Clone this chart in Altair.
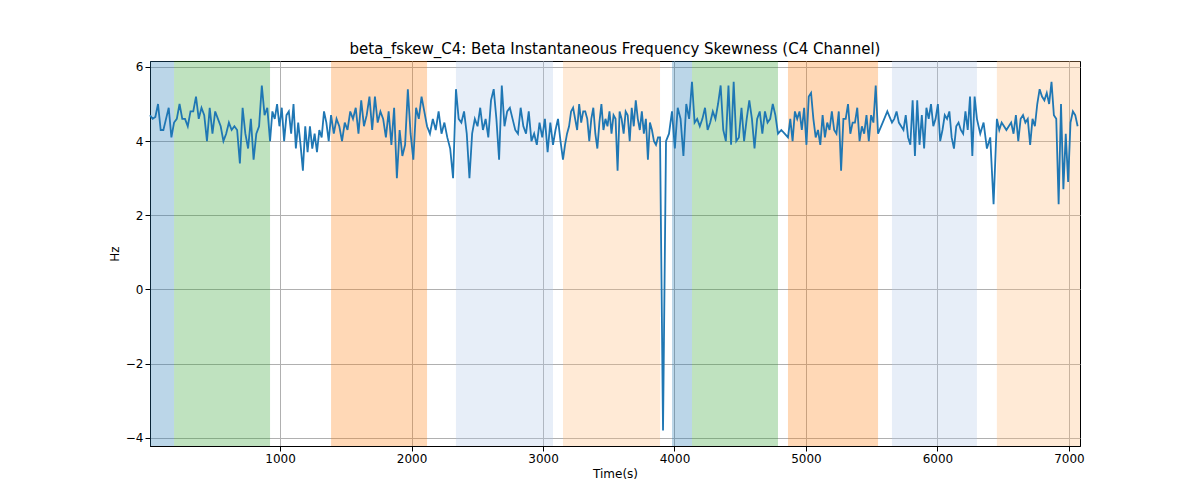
import altair as alt
import pandas as pd
import numpy as np

seg_bounds = [11, 194, 924, 1388, 2118, 2338, 3076, 3152, 3890, 3981, 4133, 4787, 4863, 5548, 5654, 6300, 6452, 7084]
seg_values = [
    [4.7,4.6,4.65,5.0,4.3,4.3,4.6,4.9,4.1],
    [4.5,4.6,5.0,4.6,4.6,4.4,4.8,4.8,5.2,4.6,4.9,4.7,4.0,4.9,4.2,4.8,4.6,4.4,4.0,4.2,4.5,4.3,4.4,4.3,3.4,4.9,4.2,3.8,4.6,3.5,4.2,4.4,5.5,4.7,4.9],
    [4.0,4.8,4.6,5.0,4.4,4.9,4.0,4.7,4.8,4.2,5.0,3.8,4.5,3.9,3.2,4.4,3.7,4.4,3.8,4.2,3.7,4.3,4.1,4.8,4.5,4.0],
    [4.7,4.2,4.6,4.4,4.0,4.5,4.3,4.8,4.6,4.9,4.2,5.1,4.4,4.7,5.2,4.3,5.2,4.5,4.8,4.6,4.1,4.8,3.9,4.9,3.0,4.3,3.6,3.9,5.4,4.2,3.5,4.9,4.6,5.2,4.8],
    [4.4,4.2,4.6,4.3,4.8,4.2,4.5,4.1,3.8,3.0],
    [5.4,4.6,4.5,4.8,4.2,3.0,4.2,4.6,4.4,4.9,4.3,4.6,4.1,5.1,5.4,4.6,3.5,5.5,4.4,4.8,4.9,4.6,4.3,4.2,4.9,4.4,4.2,4.8,4.0,4.2,3.9,4.5,4.1,4.6,3.7,4.5],
    [3.9,4.3,4.6,4.0],
    [3.5,3.9,4.2,4.4,4.8,4.9,4.6,4.3,5.0,4.5,4.8,4.8,4.6,4.0,4.6,4.9,4.2,3.8,4.5,5.0,4.3,4.6,4.4,4.8,4.2,4.7,4.6,3.2,4.8,4.6,4.2,4.8,4.7,4.0,4.9,4.4,5.1,4.6,4.3,4.8,4.2,4.6,3.5,4.5,4.3,4.0,3.9,4.1],
    [4.1,-3.8,4.0,4.2],
    [4.8,3.8,4.9,4.6,3.6,5.0,4.6],
    [5.6,4.5,4.6,4.4,4.6,4.9,4.3,4.5,4.8,4.6,5.0,5.5,4.3,4.0,5.5,3.9,5.6,4.0,4.1,4.9,4.0,4.6,5.1,4.6,3.8,4.6,4.8,4.2,4.8,4.5,4.6,5.0,4.7],
    [4.2,4.3,4.2],
    [4.1,4.6,4.0,4.8,4.6,4.8,4.3,4.9,3.9,5.2,5.3,4.6,4.1,4.3,3.9,4.7,4.1,4.5,4.3,4.8,4.3,4.2,4.8,3.2,4.6,4.6,5.0,4.2,4.5,4.5,4.9,4.0,4.4,4.2,4.7,4.0,4.7,4.5,5.5],
    [4.2,4.5,4.8],
    [4.5,4.6,4.8,4.5,4.4,4.3,4.7,4.1,3.9,5.1,3.6,5.1,3.9,4.7,3.8,4.9,4.6,5.0,4.4,4.6,5.0,4.0,4.3,4.7,4.6,4.8,4.1,3.8,4.4,4.5,4.3,4.2,4.8,4.3,5.2,3.6,5.2],
    [4.6,4.2,4.5,3.8,4.1,2.3],
    [4.6,4.3,4.5,4.4,4.3,4.4,4.5,4.2,4.7,4.0,4.6,4.7,4.5,4.6,3.9,4.6,4.4,5.0,5.4,5.2,5.1,5.3,5.0,5.6,4.7,4.6,2.3,5.0,2.7,4.2,2.9,4.5,4.8,4.7,4.4],
]

span_start = [11, 194, 1388, 2338, 3152, 3981, 4133, 4863, 5654, 6452]
span_end = [194, 924, 2118, 3076, 3890, 4133, 4787, 5548, 6300, 7084]
span_color = ["#1f77b4", "#2ca02c", "#ff7f0e", "#aec7e8", "#ffbb78",
              "#1f77b4", "#2ca02c", "#ff7f0e", "#aec7e8", "#ffbb78"]

ts, vs = [], []
for i, vals in enumerate(seg_values):
    a, b = seg_bounds[i], seg_bounds[i + 1]
    step = (b - a) / len(vals)
    for j, v in enumerate(vals):
        ts.append(a + step * j)
        vs.append(v)
df = pd.DataFrame({"t": ts, "v": vs})
spans = pd.DataFrame({"s": span_start, "e": span_end, "c": span_color})

xs = alt.Scale(domain=[11, 7084], nice=False, zero=False)
ys = alt.Scale(domain=[-4.22, 6.16], nice=False)

rects = alt.Chart(spans).mark_rect(opacity=0.3).encode(
    x=alt.X("s:Q", scale=xs), x2="e:Q", color=alt.Color("c:N", scale=None))

line = alt.Chart(df).mark_line(color="#1f77b4", strokeWidth=1.8).encode(
    x=alt.X("t:Q", scale=xs, title="Time(s)",
            axis=alt.Axis(values=[1000,2000,3000,4000,5000,6000,7000], format="d", grid=True)),
    y=alt.Y("v:Q", scale=ys, title="Hz", axis=alt.Axis(values=[-4,-2,0,2,4,6], grid=True)))

chart = alt.layer(rects, line).properties(
    width=930, height=385,
    title=alt.Title("beta_fskew_C4: Beta Instantaneous Frequency Skewness (C4 Channel)",
                    fontSize=15, fontWeight="normal", font="DejaVu Sans"),
    padding={"left": 100, "top": 33, "right": 10, "bottom": 5}
).configure_axis(
    gridColor="#b0b0b0", domainColor="black", tickColor="black", labelColor="black",
    labelFont="DejaVu Sans", titleFont="DejaVu Sans", labelFontSize=12, titleFontSize=12,
    titleFontWeight="normal"
).configure_view(stroke="black")

chart.save("out.html", embed_options={"renderer": "svg", "actions": False})
